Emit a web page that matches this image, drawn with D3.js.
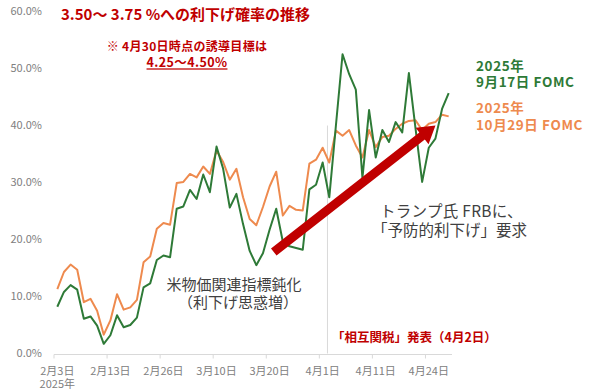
<!DOCTYPE html>
<html><head><meta charset="utf-8">
<script src="https://cdn.jsdelivr.net/npm/d3@7/dist/d3.min.js"></script>
<style>body{margin:0;background:#fff}svg{display:block}text{font-family:"Noto Sans CJK JP","Noto Sans",sans-serif}</style>
</head><body>
<script>
const dates = [
 "2/3","2/4","2/5","2/6","2/7","2/10","2/11","2/12","2/13","2/14","2/18","2/19","2/20","2/21","2/24","2/25","2/26","2/27","2/28",
 "3/3","3/4","3/5","3/6","3/7","3/10","3/11","3/12","3/13","3/14","3/17","3/18","3/19","3/20","3/21","3/24","3/25","3/26","3/27","3/28","3/31",
 "4/1","4/2","4/3","4/4","4/7","4/8","4/9","4/10","4/11","4/14","4/15","4/16","4/17","4/21","4/22","4/23","4/24","4/25","4/28","4/29"];
const sepFOMC = [8.2,10.8,12.0,11.2,6.1,6.5,4.9,1.7,3.2,6.7,4.6,5.0,6.3,11.6,12.3,16.4,17.2,16.9,25.4,25.8,
 28.7,27.1,31.4,28.3,36.3,32.4,25.6,28.0,22.7,18.0,15.5,17.6,21.7,25.4,19.6,18.8,18.5,18.2,28.8,29.6,
 33.5,27.4,40.0,52.5,49.0,46.3,30.8,42.7,34.4,39.2,37.1,40.6,38.8,49.2,39.5,30.1,36.1,37.7,42.9,45.7];
const octFOMC = [11.3,14.3,15.6,14.7,9.0,9.6,7.5,3.3,5.8,10.4,7.7,8.1,9.4,16.0,17.0,21.9,22.9,22.6,29.9,30.1,
 31.5,30.9,32.8,31.5,35.6,33.6,30.5,32.4,27.4,23.6,22.5,25.7,29.3,31.9,24.2,25.9,25.2,25.1,33.3,34.0,
 36.1,33.5,39.1,38.2,39.2,36.5,34.4,39.2,36.2,38.0,38.2,39.4,40.3,40.8,40.9,39.2,40.3,40.6,41.9,41.6];
const tickDates = ["2/3","2/13","2/26","3/10","3/20","4/1","4/11","4/24"];
const tickLabels = ["2月3日","2月13日","2月26日","3月10日","3月20日","4月1日","4月11日","4月24日"];
const yTicks = [0,10,20,30,40,50,60];

const W=600,H=391;
const svg=d3.select("body").append("svg").attr("width",W).attr("height",H);
const x=d3.scaleBand().domain(dates).range([54,452]).paddingInner(0).paddingOuter(0);
const y=d3.scaleLinear().domain([0,60]).range([353.5,11.5]);
const cx=d=>x(d)+x.bandwidth()/2;
const GREEN="#2e7a37", ORANGE="#ee8a4e", RED="#c00000", GRAY="#808080", DARK="#404040";

// y labels
svg.append("g").selectAll("text").data(yTicks).join("text")
 .attr("x",42).attr("y",d=>y(d)).attr("dy","0.35em").attr("text-anchor","end")
 .attr("font-size",11).attr("fill",GRAY).text(d=>d.toFixed(1)+"%");

// vertical marker line at 4/2
svg.append("line").attr("x1",x("4/2")+1.5).attr("x2",x("4/2")+1.5)
 .attr("y1",y(40)).attr("y2",y(0)).attr("stroke","#d9d9d9").attr("stroke-width",1);

// x axis
svg.append("line").attr("x1",54).attr("x2",452).attr("y1",y(0)+1).attr("y2",y(0)+1).attr("stroke","#d9d9d9");
const tg=svg.append("g");
tickDates.forEach((d,i)=>{
  tg.append("line").attr("x1",x(d)).attr("x2",x(d)).attr("y1",y(0)+1).attr("y2",y(0)+5).attr("stroke","#d9d9d9");
  tg.append("text").attr("x",cx(d)).attr("y",371).attr("dy","0.35em").attr("text-anchor","middle")
   .attr("font-size",11).attr("fill",GRAY).text(tickLabels[i]);
});
tg.append("text").attr("x",cx("2/3")).attr("y",384).attr("dy","0.35em").attr("text-anchor","middle")
 .attr("font-size",11).attr("fill",GRAY).text("2025年");

// lines
const line=v=>d3.line().x((d,i)=>cx(dates[i])).y(d=>y(d))(v);
svg.append("path").attr("d",line(octFOMC)).attr("fill","none").attr("stroke",ORANGE).attr("stroke-width",2).attr("stroke-linejoin","round");
svg.append("path").attr("d",line(sepFOMC)).attr("fill","none").attr("stroke",GREEN).attr("stroke-width",2).attr("stroke-linejoin","round");

// arrow
const ax0=x("3/20")+7.5, ay0=y(17.8), ax1=x("4/24")+10, ay1=y(40);
const ang=Math.atan2(ay1-ay0,ax1-ax0), len=Math.hypot(ax1-ax0,ay1-ay0);
const ag=svg.append("g").attr("transform",`translate(${ax0},${ay0}) rotate(${ang*180/Math.PI})`);
const hl=17, hw=10.5, sw=4.5;
ag.append("path").attr("d",`M0,${-sw}L${len-hl},${-sw}L${len-hl},${-hw}L${len},0L${len-hl},${hw}L${len-hl},${sw}L0,${sw}Z`).attr("fill",RED);

// texts
svg.append("text").attr("x",61).attr("y",15).attr("dy","0.35em").attr("font-size",15).attr("font-weight","bold").attr("fill",RED)
 .text("3.50～ 3.75 %への利下げ確率の推移");
svg.append("text").attr("x",187).attr("y",46.5).attr("dy","0.35em").attr("text-anchor","middle").attr("font-size",12).attr("letter-spacing",0.3).attr("font-weight","bold").attr("fill",RED)
 .text("※ 4月30日時点の誘導目標は");
svg.append("text").attr("x",187).attr("y",63).attr("dy","0.35em").attr("text-anchor","middle").attr("font-size",12.5).attr("font-weight","bold").attr("fill",RED)
 .attr("letter-spacing",0.4).attr("text-decoration","underline").text("4.25～4.50%");

const leg=(t,yy,c)=>svg.append("text").attr("x",476).attr("y",yy).attr("dy","0.35em").attr("font-size",13.5).attr("letter-spacing",0.6)
 .attr("font-weight","bold").attr("fill",c).text(t);
leg("2025年",66,GREEN); leg("9月17日 FOMC",82.5,GREEN);
leg("2025年",108,ORANGE); leg("10月29日 FOMC",125,ORANGE);

svg.append("text").attr("x",380).attr("y",211.5).attr("dy","0.35em").attr("font-size",15.5).attr("letter-spacing",0.3).attr("fill",DARK).text("トランプ氏 FRBに、");
svg.append("text").attr("x",372).attr("y",230.5).attr("dy","0.35em").attr("font-size",15.5).attr("fill",DARK).text("「予防的利下げ」要求");

svg.append("text").attr("x",234).attr("y",284.5).attr("dy","0.35em").attr("text-anchor","middle").attr("font-size",15).attr("fill",DARK).text("米物価関連指標鈍化");
svg.append("text").attr("x",238).attr("y",302.5).attr("dy","0.35em").attr("text-anchor","middle").attr("font-size",15).attr("fill",DARK).text("（利下げ思惑増）");

svg.append("text").attr("x",332).attr("y",338).attr("dy","0.35em").attr("font-size",12.5).attr("font-weight","bold").attr("fill",RED).text("「相互関税」発表（4月2日）");
</script>
</body></html>
